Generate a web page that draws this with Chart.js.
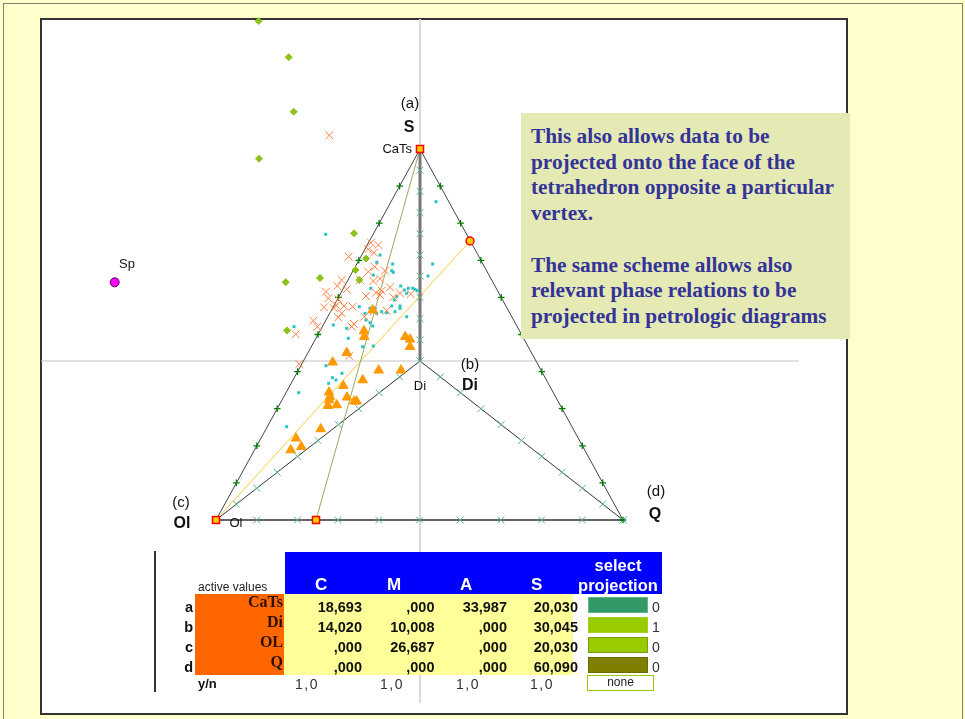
<!DOCTYPE html>
<html>
<head>
<meta charset="utf-8">
<title>CMAS projection</title>
<script src="https://cdn.jsdelivr.net/npm/chart.js@4/dist/chart.umd.min.js"></script>
<style>
  html, body { margin: 0; padding: 0; background: #ffffcc; }
  #page { position: relative; width: 965px; height: 719px; overflow: hidden; background: #ffffcc; }
  #frame { position: absolute; left: 3px; top: 3px; width: 960px; height: 730px; border: 1.5px solid #7f7f66; box-sizing: border-box; }
  #panel { position: absolute; left: 40px; top: 18px; width: 808px; height: 697px; background: #ffffff; border: 2px solid #333333; box-sizing: border-box; }
  #plot { position: absolute; left: 0; top: 0; }
  #note { position: absolute; left: 521px; top: 113px; width: 329px; height: 226px; background: #e5eab4;
          font: bold 21.3px "Liberation Serif", "Times New Roman", serif; color: #333399; line-height: 25.7px;
          padding: 11px 0 0 10px; box-sizing: border-box; white-space: nowrap; }
  .t { position: absolute; white-space: nowrap; font-family: "Liberation Sans", Arial, sans-serif; }
</style>
</head>
<body>
<div id="page">
  <div id="frame"></div>
  <div id="panel"></div>
  <canvas id="plot" width="965" height="719"></canvas>
  <div id="note">This also allows data to be<br>projected onto the face of the<br>tetrahedron opposite a particular<br>vertex.<br><br>The same scheme allows also<br>relevant phase relations to be<br>projected in petrologic diagrams</div>
  <div id="tbl"></div>
</div>
<script>
// ---- plot extent (projection units, Di at the origin) ----
const xRange = [-3.79, 3.79];
const yRange = [-3.42, 3.42];

// ---- projection triangle: apex S, centre Di, base corners Ol and Q ----
const vertexNames = ['S', 'Di', 'Ol', 'Q'];
const vertexX = [0, 0, -2.04, 2.03];
const vertexY = [2.12, 0, -1.59, -1.59];

// fractions at which edge ticks sit
const tickFractions = [0.1, 0.2, 0.3, 0.4, 0.5, 0.6, 0.7, 0.8, 0.9];
const tickFractionsFull = [0, 0.1, 0.2, 0.3, 0.4, 0.5, 0.6, 0.7, 0.8, 0.9, 1];

// active projection points (CaTs, Ol, piercing point on Ol-Q) and piercing point on S-Q
const projPointX = [0, -2.04, -1.04];
const projPointY = [2.12, -1.59, -1.59];
const pierceX = [0.50];
const pierceY = [1.20];

// projection rays
const rayOliveX = [0, -1.04];
const rayOliveY = [2.12, -1.59];
const rayYellowX = [-2.04, 0.50];
const rayYellowY = [-1.59, 1.20];

// spinel
const spX = [-3.053];
const spY = [0.787];

// sample group 1 (green diamonds)
const diamondX = [-1.613, -1.313, -1.263, -1.61, -0.66, -0.54, -0.645, -0.607, -1.00, -1.343, -1.33];
const diamondY = [3.40, 3.037, 2.493, 2.023, 1.277, 1.025, 0.91, 0.81, 0.83, 0.788, 0.305];

// sample group 2 (orange crosses)
const crossX = [-0.907, -0.49, -0.417, -0.517, -0.46, -0.713, -0.453, -0.517, -0.35, -0.783, -0.60, -0.467, -0.40,
  -0.827, -0.733, -0.94, -0.30, -0.383, -0.44, -0.20, -0.093, -0.40, -0.54, -0.917, -0.267, -0.817, -0.673,
  -0.76, -0.96, -0.84, -0.86, -0.783, -0.333, -0.467, -0.557, -0.817, -1.067, -0.66, -0.683, -1.027, -1.243,
  -0.707, -1.207];
const crossY = [2.257, 1.183, 1.16, 1.117, 1.083, 1.043, 0.943, 0.893, 0.903, 0.81, 0.81, 0.80, 0.823,
  0.75, 0.717, 0.693, 0.737, 0.703, 0.683, 0.677, 0.67, 0.66, 0.65, 0.627, 0.637, 0.617, 0.543,
  0.55, 0.537, 0.557, 0.527, 0.477, 0.503, 0.493, 0.443, 0.437, 0.403, 0.37, 0.343, 0.343, 0.267,
  0.05, -0.03];

// sample group 3 (cyan dots)
const dotX = [-0.943, 0.16, -0.40, -0.433, -0.273, -0.283, -0.267, -0.467, 0.127, 0.08, -0.493, -0.193, -0.157,
  -0.117, -0.073, -0.05, -0.027, -0.133, -0.233, -0.257, -0.20, -0.20, -0.283, -0.25, -0.333, -0.383, -0.433,
  -0.45, -0.50, -0.55, -0.607, -0.54, -0.50, -0.473, -0.867, -0.733, -1.26, -0.567, -0.717, -0.467, -0.573,
  -0.94, -0.78, -0.877, -0.84, -0.913, -1.213, -1.333, -0.133];
const dotY = [1.267, 1.593, 1.06, 0.987, 0.97, 0.903, 0.887, 0.86, 0.97, 0.85, 0.727, 0.75, 0.71,
  0.727, 0.727, 0.717, 0.703, 0.677, 0.643, 0.61, 0.55, 0.527, 0.55, 0.493, 0.483, 0.493, 0.477,
  0.527, 0.527, 0.477, 0.543, 0.41, 0.383, 0.35, 0.36, 0.327, 0.343, 0.277, 0.227, 0.15, 0.143,
  -0.047, -0.123, -0.167, -0.19, -0.223, -0.317, -0.657, 0.443];

// sample group 4 (orange triangles)
const triX = [-0.473, -0.56, -0.557, -0.147, -0.10, -0.10, -0.733, -0.873, -0.413, -0.19, -0.573, -0.767,
  -0.91, -0.90, -0.907, -0.73, -0.92, -0.833, -0.657, -0.633, -0.993, -1.24, -1.187, -1.293];
const triY = [0.51, 0.30, 0.243, 0.243, 0.217, 0.143, 0.083, -0.013, -0.093, -0.093, -0.19, -0.247,
  -0.313, -0.357, -0.39, -0.363, -0.447, -0.44, -0.403, -0.403, -0.68, -0.773, -0.857, -0.89];

// ---- table of active end-member compositions ----
const endMembers = ['CaTs', 'Di', 'OL', 'Q'];
const rowKeys = ['a', 'b', 'c', 'd'];
const oxides = ['C', 'M', 'A', 'S'];
const valC = [18.693, 14.020, 0, 0];
const valM = [0, 10.008, 26.687, 0];
const valA = [33.987, 0, 0, 0];
const valS = [20.030, 30.045, 20.030, 60.090];
const selectFlags = [0, 1, 0, 0];
const useFlags = [1, 1, 1, 1];

const pts = (xs, ys) => xs.map((x, i) => ({ x, y: ys[i] }));
const V = i => ({ x: vertexX[i], y: vertexY[i] });
const along = (a, b, fr) => fr.map(t => ({ x: a.x + (b.x - a.x) * t, y: a.y + (b.y - a.y) * t }));
const S = V(0), Di = V(1), Ol = V(2), Q = V(3);

const plusTicks = along(S, Ol, tickFractions).concat(along(S, Q, tickFractions), [Q]);
const xTicks = along(S, Di, tickFractionsFull).concat(along(Ol, Di, tickFractions),
  along(Di, Q, tickFractionsFull), along(Ol, Q, tickFractionsFull.slice(1)));

const lineDs = (data, color, width, order) => ({
  type: 'scatter', data, showLine: true, borderColor: color, borderWidth: width,
  pointRadius: 0, fill: false, order, clip: false
});
const markDs = (data, style, radius, fill, stroke, bw, order) => ({
  type: 'scatter', data, pointStyle: style, pointRadius: radius, pointHoverRadius: radius,
  backgroundColor: fill, borderColor: stroke, pointBorderWidth: bw, borderWidth: bw, order, clip: false
});

// text labels on the projection, anchored in plot units
const annotations = [
  { text: '(a)', x: -0.10, y: 2.57, font: '15px "Liberation Sans"', align: 'center' },
  { text: 'S', x: -0.11, y: 2.33, font: 'bold 16px "Liberation Sans"', align: 'center' },
  { text: 'CaTs', x: -0.08, y: 2.115, font: '13px "Liberation Sans"', align: 'right' },
  { text: '(b)', x: 0.50, y: -0.04, font: '15px "Liberation Sans"', align: 'center' },
  { text: 'Di', x: 0.50, y: -0.25, font: 'bold 16px "Liberation Sans"', align: 'center' },
  { text: 'Di', x: 0.00, y: -0.25, font: '13px "Liberation Sans"', align: 'center' },
  { text: '(c)', x: -2.39, y: -1.42, font: '15px "Liberation Sans"', align: 'center' },
  { text: 'Ol', x: -2.38, y: -1.63, font: 'bold 16px "Liberation Sans"', align: 'center' },
  { text: 'Ol', x: -1.84, y: -1.625, font: '13px "Liberation Sans"', align: 'center' },
  { text: '(d)', x: 2.36, y: -1.31, font: '15px "Liberation Sans"', align: 'center' },
  { text: 'Q', x: 2.35, y: -1.54, font: 'bold 16px "Liberation Sans"', align: 'center' },
  { text: 'Sp', x: -2.93, y: 0.97, font: '13px "Liberation Sans"', align: 'center' }
];

const labelPlugin = {
  id: 'vertexLabels',
  afterDatasetsDraw(chart) {
    const { ctx, scales } = chart;
    ctx.save();
    ctx.fillStyle = '#111111';
    ctx.textBaseline = 'middle';
    annotations.forEach(a => {
      ctx.font = a.font;
      ctx.textAlign = a.align;
      ctx.fillText(a.text, scales.x.getPixelForValue(a.x), scales.y.getPixelForValue(a.y));
    });
    ctx.restore();
  }
};

new Chart(document.getElementById('plot'), {
  type: 'scatter',
  data: {
    datasets: [
      markDs(pts(spX, spY), 'circle', 4.5, '#ff00ff', '#550055', 1, 0),
      markDs(pts(projPointX, projPointY), 'rect', 5, '#ffcc00', '#ff0000', 1.5, 0),
      markDs(pts(pierceX, pierceY), 'circle', 4, '#ffcc00', '#ff0000', 1.5, 0),
      markDs(pts(triX, triY), 'triangle', 5.5, '#ff9900', '#ff9900', 1, 1),
      markDs(pts(diamondX, diamondY), 'rectRot', 3.5, '#8cc21a', '#8cc21a', 1, 1),
      markDs(pts(crossX, crossY), 'crossRot', 5.5, '#ff7f40', '#ff7f40', 1, 1),
      markDs(pts(dotX, dotY), 'rect', 2.1, '#22c4c4', '#22c4c4', 0, 1),
      markDs(plusTicks, 'cross', 3.3, '#007a00', '#007a00', 1.3, 3),
      markDs(xTicks, 'crossRot', 4.8, '#5cae82', '#5cae82', 1, 3),
      lineDs([S, Di], '#777777', 3, 4),
      lineDs(pts(rayOliveX, rayOliveY), '#a3a35e', 1, 5),
      lineDs(pts(rayYellowX, rayYellowY), '#ffcc33', 1, 5),
      lineDs([S, Ol], '#444444', 1, 5),
      lineDs([S, Q], '#444444', 1, 5),
      lineDs([Ol, Di], '#333333', 1, 5),
      lineDs([Di, Q], '#333333', 1, 5),
      lineDs([Ol, Q], '#333333', 1.6, 5),
      lineDs([{ x: xRange[0], y: 0 }, { x: xRange[1], y: 0 }], '#c4c4c4', 1.2, 9),
      lineDs([{ x: 0, y: yRange[0] }, { x: 0, y: yRange[1] }], '#dadada', 2.2, 9)
    ]
  },
  options: {
    responsive: false,
    animation: false,
    events: [],
    layout: { padding: { left: 41, right: 166, top: 19, bottom: 16 } },
    plugins: { legend: { display: false }, tooltip: { enabled: false } },
    scales: {
      x: { type: 'linear', min: xRange[0], max: xRange[1], display: false },
      y: { type: 'linear', min: yRange[0], max: yRange[1], display: false }
    }
  },
  plugins: [labelPlugin]
});

// ---- composition table ----
const tbl = document.getElementById('tbl');
function box(left, top, w, h, css, text) {
  const d = document.createElement('div');
  d.className = 't';
  d.style.cssText = `left:${left}px;top:${top}px;width:${w}px;height:${h}px;line-height:${h}px;` + css;
  if (text !== undefined) d.textContent = text;
  tbl.appendChild(d);
  return d;
}
const fmt3 = v => v === 0 ? ',000' : v.toFixed(3).replace('.', ',');
const fmt1 = v => v.toFixed(1).replace('.', ',');

box(154, 551, 2, 141, 'background:#333333;');
box(285, 552, 377, 42, 'background:#0000ff;');
box(195, 594, 89, 81, 'background:#ff6600;');
box(284, 594, 289, 81, 'background:#ffff99;');
box(198, 578, 90, 18, 'font-size:12px;color:#222;', 'active values');

const headLeft = [315, 387, 460, 531];
oxides.forEach((o, i) => box(headLeft[i], 574, 30, 22, 'font-size:17px;font-weight:bold;color:#fff;', o));
box(574, 555, 88, 20, 'font-size:16.5px;font-weight:bold;color:#fff;text-align:center;', 'select');
box(574, 575, 88, 20, 'font-size:16.5px;font-weight:bold;color:#fff;text-align:center;', 'projection');

const colRight = [362, 434.5, 507, 578];
const cols = [valC, valM, valA, valS];
const barColors = ['#339966', '#99cc00', '#99cc00', '#808000'];
const barBorders = ['#5cb888', '#a6d21e', '#7c9c10', '#6b6b00'];
endMembers.forEach((name, r) => {
  const cy = 606.7 + r * 20;
  box(150, cy - 10, 43, 20, 'font-size:14.5px;font-weight:bold;color:#111;text-align:right;', rowKeys[r]);
  box(200, cy - 14, 83, 20, 'font:bold 16px "Liberation Serif",serif;color:#2a1200;text-align:right;', name);
  cols.forEach((c, k) => box(colRight[k] - 80, cy - 10, 80, 20,
    'font-size:14.5px;font-weight:bold;color:#111;text-align:right;', fmt3(c[r])));
  box(587.5, cy - 9.5, 60, 16, `background:${barColors[r]};border:1.5px solid ${barBorders[r]};box-sizing:border-box;`);
  box(652, cy - 10, 20, 20, 'font-size:14px;color:#333;', String(selectFlags[r]));
});
box(198, 674, 40, 20, 'font-size:13px;font-weight:bold;color:#111;', 'y/n');
const ynLeft = [295, 380, 456, 530];
useFlags.forEach((v, k) => box(ynLeft[k], 674, 40, 20, 'font-size:14px;color:#333;letter-spacing:1.5px;', fmt1(v)));
box(587, 674.5, 67, 16.5, 'background:#fff;border:1.5px solid #99cc00;box-sizing:border-box;font-size:12px;color:#222;text-align:center;line-height:13.5px;', 'none');
</script>
</body>
</html>
